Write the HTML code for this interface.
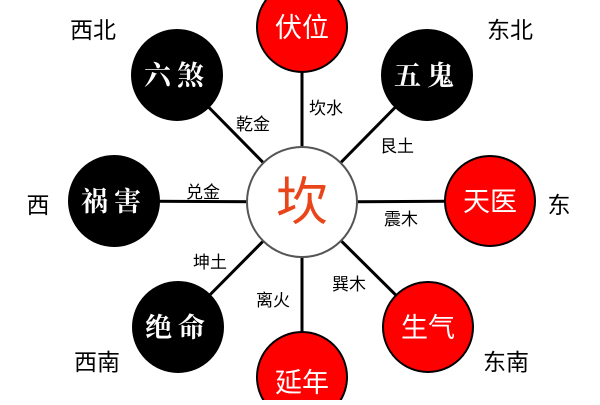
<!DOCTYPE html>
<html><head><meta charset="utf-8"><style>
body{margin:0;background:#fff;}
svg text{font-family:"Liberation Sans","Noto Sans CJK SC",sans-serif;}
.s{font-family:"Noto Serif CJK SC",serif !important;font-weight:bold;}
</style></head><body>
<svg width="600" height="400" viewBox="0 0 600 400" xmlns="http://www.w3.org/2000/svg">
<g stroke="#000" stroke-width="3">
<line x1="302" y1="202" x2="302" y2="27"/>
<line x1="302" y1="202" x2="302" y2="377"/>
<line x1="302" y1="202" x2="177" y2="75"/>
<line x1="302" y1="202" x2="427" y2="75"/>
<line x1="302" y1="202" x2="114" y2="201"/>
<line x1="302" y1="202" x2="490" y2="201"/>
<line x1="302" y1="202" x2="178" y2="327"/>
<line x1="302" y1="202" x2="428" y2="327"/>
</g>
<circle cx="302" cy="202" r="55" fill="#fff" stroke="#555" stroke-width="2"/>
<text x="302" y="220" font-size="52" fill="#e8461a" text-anchor="middle">坎</text>
<g stroke="#000" stroke-width="2">
<circle cx="302" cy="27" r="45" fill="#f00"/>
<circle cx="302" cy="377" r="45" fill="#f00"/>
<circle cx="490" cy="201" r="45" fill="#f00"/>
<circle cx="428" cy="327" r="45" fill="#f00"/>
<circle cx="177" cy="75" r="45" fill="#000"/>
<circle cx="427" cy="75" r="45" fill="#000"/>
<circle cx="114" cy="201" r="45" fill="#000"/>
<circle cx="178" cy="327" r="45" fill="#000"/>
</g>
<g fill="#fff" font-size="27" text-anchor="middle">
<text x="302" y="37">伏位</text>
<text x="302" y="392">延年</text>
<text x="490" y="211">天医</text>
<text x="428" y="337">生气</text>
<text class="s" x="177" y="85" letter-spacing="6">六煞</text>
<text class="s" x="427" y="85" letter-spacing="6">五鬼</text>
<text class="s" x="114" y="211" letter-spacing="6">祸害</text>
<text class="s" x="178" y="337" letter-spacing="6">绝命</text>
</g>
<g font-size="17" fill="#000" text-anchor="middle">
<text x="326" y="114">坎水</text>
<text x="253" y="130">乾金</text>
<text x="397" y="152">艮土</text>
<text x="203" y="198">兑金</text>
<text x="401" y="225">震木</text>
<text x="210" y="268">坤土</text>
<text x="349" y="290">巽木</text>
<text x="273" y="306">离火</text>
</g>
<g font-size="23" fill="#000" text-anchor="middle">
<text x="93" y="38">西北</text>
<text x="510" y="38">东北</text>
<text x="38" y="213">西</text>
<text x="559" y="213">东</text>
<text x="97" y="370">西南</text>
<text x="506" y="370">东南</text>
</g>
</svg>
</body></html>
